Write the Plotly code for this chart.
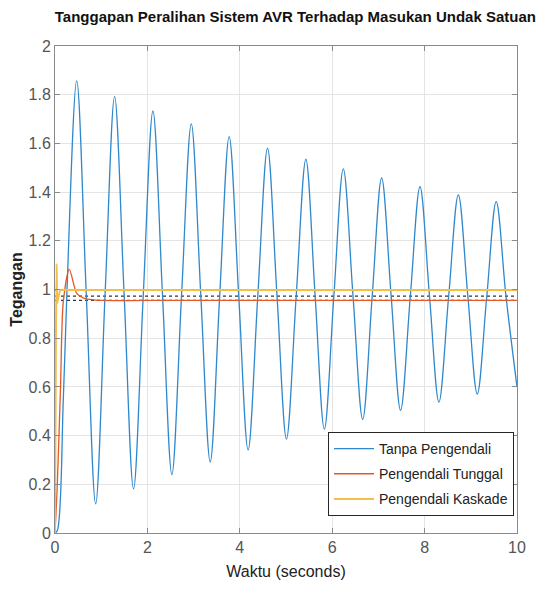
import plotly.graph_objects as go

# ---- data ----
t_tanpa = [0, 0.05, 0.18, 0.26, 0.47, 0.675, 0.88, 1.085, 1.29, 1.495, 1.70, 1.91, 2.12, 2.325,
           2.53, 2.74, 2.95, 3.155, 3.36, 3.565, 3.77, 3.975, 4.18, 4.39, 4.60, 4.805, 5.01,
           5.22, 5.43, 5.63, 5.83, 6.035, 6.24, 6.45, 6.66, 6.865, 7.07, 7.275, 7.48, 7.69,
           7.90, 8.105, 8.31, 8.52, 8.73, 8.935, 9.14, 9.345, 9.55, 9.76, 10.0]
y_tanpa = [0, 0.01, 0.55, 1.0, 1.857, 0.99, 0.120, 0.985, 1.792, 0.985, 0.181, 0.975, 1.733, 0.985,
           0.240, 0.98, 1.680, 0.98, 0.292, 0.975, 1.628, 0.98, 0.341, 0.975, 1.580, 0.975, 0.386,
           0.97, 1.535, 0.975, 0.427, 0.97, 1.495, 0.975, 0.467, 0.97, 1.458, 0.975, 0.504, 0.97,
           1.422, 0.975, 0.538, 0.97, 1.389, 0.975, 0.571, 0.97, 1.361, 0.975, 0.600]

t_tunggal = [0, 0.05, 0.12, 0.18, 0.31, 0.47, 0.61, 0.8, 1.0, 2.0, 5.0, 10.0]
y_tunggal = [0, 0.2, 0.6, 0.95, 1.083, 0.984, 0.966, 0.958, 0.955, 0.955, 0.955, 0.955]

t_kaskade = [0, 0.02, 0.035, 0.05, 0.08, 0.12, 0.2, 0.5, 2.0, 5.0, 10.0]
y_kaskade = [0, 0.8, 1.105, 0.945, 0.975, 0.998, 0.998, 0.998, 0.998, 0.998, 0.998]

steady_values = [0.998, 0.973, 0.955]

x_ticks = [0, 2, 4, 6, 8, 10]
y_ticks = [0, 0.2, 0.4, 0.6, 0.8, 1, 1.2, 1.4, 1.6, 1.8, 2]
y_ticktext = ["0", "0.2", "0.4", "0.6", "0.8", "1", "1.2", "1.4", "1.6", "1.8", "2"]

names = ["Tanpa Pengendali", "Pengendali Tunggal", "Pengendali Kaskade"]
colors = ["#2f88cc", "#e2592a", "#f3bf48"]

FONT = "Liberation Sans"

fig = go.Figure()

for v in steady_values:
    fig.add_trace(go.Scatter(x=[0, 10], y=[v, v], mode="lines",
                             line=dict(color="#333333", width=1.2, dash="dot"),
                             showlegend=False, hoverinfo="skip"))

fig.add_trace(go.Scatter(x=t_tanpa, y=y_tanpa, mode="lines", name=names[0], legendgroup="a",
                         line=dict(color=colors[0], width=1.3, shape="spline", smoothing=1.0)))
fig.add_trace(go.Scatter(x=t_tunggal, y=y_tunggal, mode="lines", name=names[1], legendgroup="b",
                         line=dict(color=colors[1], width=1.3, shape="spline", smoothing=0.8)))
fig.add_trace(go.Scatter(x=t_kaskade, y=y_kaskade, mode="lines", name=names[2], legendgroup="c",
                         line=dict(color=colors[2], width=2, shape="spline", smoothing=0.5)))

axis_common = dict(showline=True, linecolor="#8a8a8a", linewidth=1, mirror="ticks",
                   ticks="inside", ticklen=5, tickcolor="#8a8a8a", automargin=False,
                   showgrid=True, gridcolor="#e4e4e4", gridwidth=1, zeroline=False,
                   tickfont=dict(family=FONT, size=16, color="#555555"))

fig.update_xaxes(range=[0, 10], tickvals=x_ticks, ticktext=[str(v) for v in x_ticks],
                 title=dict(text="Waktu (seconds)", font=dict(family=FONT, size=16, color="#222222"),
                            standoff=10),
                 **axis_common)
fig.update_yaxes(range=[0, 2], tickvals=y_ticks, ticktext=y_ticktext,
                 title=dict(text="<b>Tegangan</b>", font=dict(family=FONT, size=16, color="#222222"),
                            standoff=6),
                 **axis_common)

fig.update_layout(
    width=558, height=596,
    margin=dict(l=47, r=49, t=38, b=71),
    paper_bgcolor="white", plot_bgcolor="white",
    title=dict(text="<b>Tanggapan Peralihan Sistem AVR Terhadap Masukan Undak Satuan</b>",
               font=dict(family=FONT, size=15, color="#111111"),
               x=0.515, xanchor="center", y=0.986, yanchor="middle"),
    legend=dict(x=0.9935, xanchor="right", y=0.035, yanchor="bottom",
                bgcolor="white", bordercolor="#262626", borderwidth=1,
                font=dict(family=FONT, size=14, color="#222222"),
                itemwidth=40,
                traceorder="grouped", tracegroupgap=4),
    showlegend=True,
)

fig.write_html("out.html")
